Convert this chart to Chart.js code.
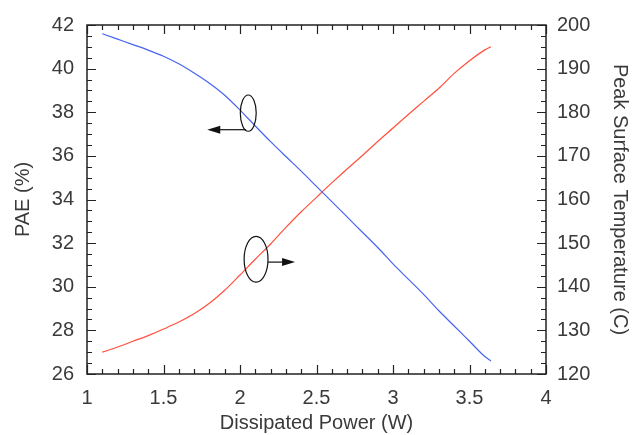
<!DOCTYPE html>
<html>
<head>
<meta charset="utf-8">
<script src="https://cdn.jsdelivr.net/npm/chart.js@4/dist/chart.umd.min.js"></script>
<style>
  html, body { margin: 0; padding: 0; background: #fff; }
  #wrap { width: 632px; height: 435px; }
</style>
</head>
<body>
<div id="wrap"><canvas id="chart"></canvas></div>
<script>
/**
 * Data.
 */
const power = [1.1, 1.2, 1.3, 1.4, 1.5, 1.6, 1.7, 1.8, 1.9, 2.0, 2.1, 2.2, 2.3, 2.4, 2.5,
  2.6, 2.7, 2.8, 2.9, 3.0, 3.1, 3.2, 3.3, 3.4, 3.5, 3.6, 3.64];
const pae = [41.6, 41.35, 41.1, 40.85, 40.57, 40.22, 39.8, 39.33, 38.78, 38.1, 37.37, 36.65,
  35.97, 35.3, 34.6, 33.9, 33.2, 32.5, 31.8, 31.05, 30.35, 29.65, 28.9, 28.2, 27.5, 26.8, 26.6];
const temperature = [125.0, 126.2, 127.5, 128.8, 130.3, 131.9, 133.8, 136.2, 139.2, 142.7, 146.3,
  149.8, 153.6, 157.2, 160.5, 163.8, 167.0, 170.1, 173.3, 176.4, 179.5, 182.5, 185.5, 188.9,
  191.8, 194.3, 195.0];

const xTicks = [1, 1.5, 2, 2.5, 3, 3.5, 4];
const paeTicks = [26, 28, 30, 32, 34, 36, 38, 40, 42];
const tempTicks = [120, 130, 140, 150, 160, 170, 180, 190, 200];

/**
 * Ellipse + arrow callouts, in data units (x, PAE).
 */
const callouts = [
  { cx: 2.054, cy: 37.96, rx: 0.052, ry: 0.83, ay: 37.2, from: 2.04, to: 1.786 },
  { cx: 2.105, cy: 31.26, rx: 0.078, ry: 1.05, ay: 31.13, from: 2.183, to: 2.36 },
];

const textColor = '#3a3a3a';
const font = { family: '"Liberation Sans", Arial, sans-serif', size: 20 };

/**
 * Frame, inward ticks and callouts.
 */
const framePlugin = {
  id: 'frame',
  afterDatasetsDraw(chart) {
    const { ctx, chartArea: a, scales } = chart;
    const { x, y, y2 } = scales;
    ctx.save();
    ctx.strokeStyle = '#222';
    ctx.lineWidth = 1.5;
    ctx.strokeRect(a.left, a.top, a.right - a.left, a.bottom - a.top);

    ctx.lineWidth = 1.2;
    ctx.beginPath();
    for (let i = 0; i <= 30; i += 1) {
      const v = 1 + i * 0.1;
      const px = Math.round(x.getPixelForValue(v)) + 0.5;
      const len = i % 5 === 0 ? 9 : 5;
      ctx.moveTo(px, a.bottom); ctx.lineTo(px, a.bottom - len);
      ctx.moveTo(px, a.top); ctx.lineTo(px, a.top + len);
    }
    for (let i = 0; i <= 32; i += 1) {
      const v = 26 + i * 0.5;
      const py = Math.round(y.getPixelForValue(v)) + 0.5;
      const len = i % 4 === 0 ? 9 : 5;
      ctx.moveTo(a.left, py); ctx.lineTo(a.left + len, py);
    }
    for (let i = 0; i <= 32; i += 1) {
      const v = 120 + i * 2.5;
      const py = Math.round(y2.getPixelForValue(v)) + 0.5;
      const len = i % 4 === 0 ? 9 : 5;
      ctx.moveTo(a.right, py); ctx.lineTo(a.right - len, py);
    }
    ctx.stroke();

    ctx.strokeStyle = '#111';
    ctx.fillStyle = '#111';
    ctx.lineWidth = 1.2;
    callouts.forEach((c) => {
      const cx = x.getPixelForValue(c.cx);
      const cy = y.getPixelForValue(c.cy);
      const rx = x.getPixelForValue(c.cx + c.rx) - cx;
      const ry = cy - y.getPixelForValue(c.cy + c.ry);
      ctx.beginPath();
      ctx.ellipse(cx, cy, rx, ry, 0, 0, Math.PI * 2);
      ctx.stroke();

      const ay = y.getPixelForValue(c.ay);
      const x0 = x.getPixelForValue(c.from);
      const x1 = x.getPixelForValue(c.to);
      const dir = Math.sign(x1 - x0);
      ctx.beginPath();
      ctx.moveTo(x0, ay); ctx.lineTo(x1 - dir * 10, ay);
      ctx.stroke();
      ctx.beginPath();
      ctx.moveTo(x1, ay);
      ctx.lineTo(x1 - dir * 13, ay - 4);
      ctx.lineTo(x1 - dir * 13, ay + 4);
      ctx.closePath();
      ctx.fill();
    });
    ctx.restore();
  },
};

new Chart(document.getElementById('chart'), {
  type: 'line',
  data: {
    datasets: [
      {
        label: 'PAE',
        data: power.map((p, i) => ({ x: p, y: pae[i] })),
        borderColor: 'rgb(70, 100, 240)',
        borderWidth: 1.2,
        pointRadius: 0,
        cubicInterpolationMode: 'monotone',
        yAxisID: 'y',
      },
      {
        label: 'Temperature',
        data: power.map((p, i) => ({ x: p, y: temperature[i] })),
        borderColor: 'rgb(255, 80, 60)',
        borderWidth: 1.2,
        pointRadius: 0,
        cubicInterpolationMode: 'monotone',
        yAxisID: 'y2',
      },
    ],
  },
  options: {
    responsive: true,
    maintainAspectRatio: false,
    animation: false,
    layout: { padding: { top: 20, left: 0, right: 0, bottom: 0 } },
    plugins: { legend: { display: false }, tooltip: { enabled: false } },
    scales: {
      x: {
        type: 'linear',
        min: 1,
        max: 4,
        afterBuildTicks: (s) => { s.ticks = xTicks.map((v) => ({ value: v })); },
        afterFit: (s) => { s.height = 61; },
        grid: { display: false, drawTicks: false },
        border: { display: false },
        ticks: { color: textColor, font, padding: 12, maxRotation: 0, callback: (v) => String(v) },
        title: { display: true, text: 'Dissipated Power (W)', color: textColor, font, padding: { top: 0, bottom: 0 } },
      },
      y: {
        position: 'left',
        min: 26,
        max: 42,
        afterBuildTicks: (s) => { s.ticks = paeTicks.map((v) => ({ value: v })); },
        afterFit: (s) => { s.width = 87; },
        grid: { display: false, drawTicks: false },
        border: { display: false },
        ticks: { color: textColor, font, padding: 13, callback: (v) => String(v) },
        title: { display: true, text: 'PAE (%)', color: textColor, font, padding: { top: 11, bottom: 0 } },
      },
      y2: {
        position: 'right',
        min: 120,
        max: 200,
        afterBuildTicks: (s) => { s.ticks = tempTicks.map((v) => ({ value: v })); },
        afterFit: (s) => { s.width = 86; },
        grid: { display: false, drawTicks: false },
        border: { display: false },
        ticks: { color: textColor, font, padding: 11, callback: (v) => String(v) },
        title: { display: true, text: 'Peak Surface Temperature (C)', color: textColor, font, padding: { top: 0, bottom: 0 } },
      },
    },
  },
  plugins: [framePlugin],
});
</script>
</body>
</html>
